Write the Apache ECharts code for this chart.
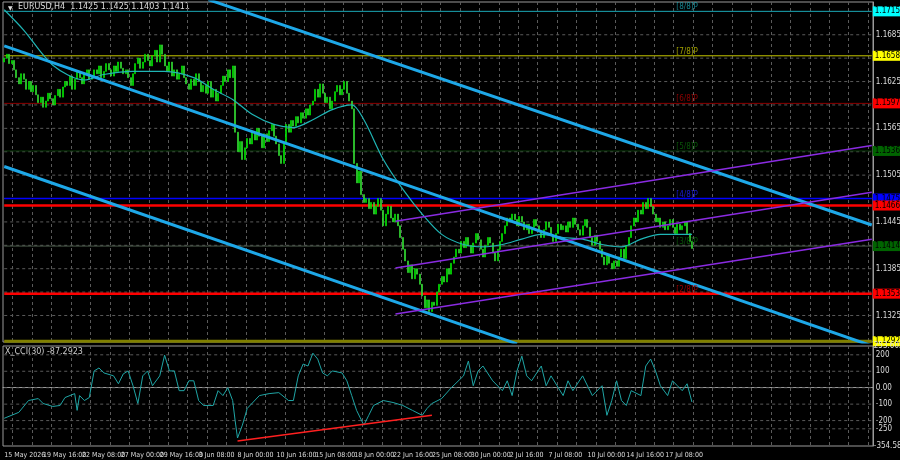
<!DOCTYPE html>
<html>
<head>
<meta charset="utf-8">
<script src="https://cdn.jsdelivr.net/npm/echarts@6/dist/echarts.min.js"></script>
<style>
  html, body { margin: 0; padding: 0; background: #000; }
  #chart { width: 900px; height: 460px; }
</style>
</head>
<body>
<div id="chart"></div>
<script>
// EURUSD H4 closes
const closes = [
  1.1655,1.1660,1.1648,1.1652,1.1640,
  1.1630,1.1622,1.1635,1.1628,1.1615,1.1625,1.1612,1.1620,
  1.1608,1.1598,1.1605,1.1592,1.1600,1.1610,1.1603,1.1595,1.1607,1.1615,1.1605,1.1618,
  1.1625,1.1620,1.1632,1.1615,1.1628,1.1638,1.1630,1.1622,1.1635,1.1640,1.1628,1.1632,
  1.1640,1.1635,1.1645,1.1630,1.1638,1.1648,1.1640,1.1632,1.1645,1.1638,1.1650,1.1642,1.1635,1.1640,1.1630,1.1620,1.1635,
  1.1648,1.1655,1.1642,1.1650,1.1660,1.1652,1.1645,1.1658,1.1665,1.1650,1.1672,1.1660,
  1.1645,1.1638,1.1650,1.1632,1.1640,1.1628,1.1635,1.1645,1.1630,1.1622,1.1615,1.1628,1.1620,1.1635,1.1625,1.1612,1.1620,
  1.1610,1.1625,1.1605,1.1615,1.1600,1.1610,1.1620,1.1632,1.1625,1.1640,1.1630,1.1645,
  1.1560,1.1535,1.1548,1.1525,1.1540,1.1552,
  1.1545,1.1560,1.1550,1.1565,1.1555,1.1540,1.1558,1.1548,1.1562,1.1570,1.1555,1.1545,1.1530,1.1520,1.1545,
  1.1570,1.1560,1.1575,1.1568,1.1580,1.1572,1.1585,1.1578,1.1590,1.1582,1.1595,
  1.1600,1.1615,1.1605,1.1622,1.1610,1.1598,1.1605,1.1590,1.1600,1.1612,1.1620,1.1608,1.1615,1.1625,1.1610,1.1600,1.1590,
  1.1520,1.1495,1.1510,1.1480,1.1470,
  1.1475,1.1462,1.1470,1.1455,1.1465,1.1475,1.1460,1.1440,1.1455,1.1465,1.1450,1.1445,1.1455,1.1440,
  1.1425,1.1410,1.1395,1.1380,1.1390,1.1372,1.1385,1.1378,1.1365,
  1.1350,1.1335,1.1345,1.1330,1.1342,1.1338,1.1355,
  1.1365,1.1375,1.1368,1.1385,1.1378,1.1392,1.1400,1.1410,
  1.1405,1.1420,1.1412,1.1425,1.1415,1.1405,1.1418,1.1430,1.1422,1.1410,1.1400,1.1415,1.1425,1.1418,1.1405,1.1395,1.1410,
  1.1420,1.1430,1.1440,1.1450,1.1445,1.1455,1.1448,1.1440,1.1452,
  1.1445,1.1435,1.1442,1.1430,1.1438,1.1448,1.1440,1.1432,1.1425,1.1435,1.1445,1.1438,1.1428,1.1420,1.1430,1.1442,1.1435,
  1.1440,1.1432,1.1445,1.1438,1.1450,1.1442,1.1435,1.1428,1.1440,1.1448,1.1438,1.1425,1.1415,1.1428,1.1420,1.1410,
  1.1400,1.1390,1.1402,1.1392,1.1385,1.1395,1.1388,1.1400,1.1410,1.1398,1.1415,1.1425,
  1.1440,1.1450,1.1445,1.1460,1.1455,1.1470,1.1462,1.1475,1.1465,
  1.1455,1.1445,1.1450,1.1438,1.1445,1.1435,1.1440,1.1448,1.1438,1.1430,1.1442,1.1435,1.1440,1.1445,1.1430,1.1420,1.1411
];
const firstOpen = 1.1650;
const slotCount = 358;

const maIdx = [0,8,20,33,41,53,66,78,86,94,102,111,119,127,135,143,148,156,164,172,180,189,197,205,213,221,230,238,246,254,262,270,283];
const maVals = [1.1717,1.1691,1.1646,1.1627,1.1634,1.1638,1.1638,1.1630,1.1615,1.1602,1.1583,1.1570,1.1566,1.1576,1.1589,1.1595,1.1576,1.1525,1.1487,1.1455,1.1429,1.1416,1.1413,1.1416,1.1423,1.1429,1.1425,1.1423,1.1416,1.1413,1.1423,1.1429,1.1429];

const cciIdx = [0,6,10,14,16,20,23,25,29,30,31,33,35,37,39,41,45,47,49,51,53,55,57,59,61,64,66,68,70,72,74,76,78,80,82,86,88,90,92,94,95,96,98,100,105,109,113,117,119,121,123,125,127,129,131,133,135,139,141,143,145,148,150,152,156,160,164,168,172,174,176,180,184,189,191,193,195,197,201,205,207,209,211,213,215,217,221,223,225,230,232,234,238,242,246,248,250,252,254,256,258,262,264,266,268,270,273,275,277,279,281,283];
const cciVals = [-186,-150,-78,-66,-96,-114,-108,-60,-36,-138,-48,-78,-60,102,120,90,72,24,84,102,12,-96,72,102,12,72,198,102,102,-18,-18,42,42,-78,-108,-108,-18,-48,0,-78,-198,-306,-228,-126,-48,-36,-30,-78,-78,72,144,132,210,174,90,72,102,90,42,-48,-138,-228,-168,-108,-78,-90,-108,-138,-168,-126,-96,-66,0,72,162,12,102,132,42,-18,42,-48,102,192,72,42,132,12,72,-48,42,-18,72,-48,12,-168,-78,42,-78,-108,-18,-48,132,174,102,12,-48,42,12,-18,24,-87];

const dateLabels = ['15 May 2026','19 May 16:00','22 May 08:00','27 May 00:00','29 May 16:00','3 Jun 08:00','8 Jun 00:00','10 Jun 16:00','15 Jun 08:00','18 Jun 00:00','22 Jun 16:00','25 Jun 08:00','30 Jun 00:00','2 Jul 16:00','7 Jul 08:00','10 Jul 00:00','14 Jul 16:00','17 Jul 08:00'];
const barsPerLabel = 16;

const priceMin = 1.1291, priceMax = 1.1727;
const gridTicks = [1.1325,1.1355,1.1385,1.1415,1.1445,1.1475,1.1505,1.1535,1.1565,1.1595,1.1625,1.1655,1.1685];
const priceLabels = [1.1685,1.1625,1.1565,1.1505,1.1445,1.1385,1.1325];

// Murray levels and other horizontal lines
const levelVals = [1.1715,1.1658,1.1597,1.1536,1.1475,1.1466,1.1414,1.1353,1.1292];
const levelTags = ['[8/8]P','[7/8]P','[6/8]P','[5/8]P','[4/8]P','','[3/8]P','[2/8]P',''];

// trend channels: [startIdx, startPrice, endIdx, endPrice]
const blueLines = [[84,1.1730,357,1.1441],[0,1.16708,357,1.12861],[0,1.15161,211,1.12887]];
const purpleLines = [[161,1.14459,357,1.15430],[161,1.13858,357,1.14829],[161,1.13270,357,1.14228]];
const cciTrend = [[96,-324],[176,-168]];

const cciMin = -354.583, cciMax = 253.6021;
const cciTicks = [200,100,0,-100,-200,-250];
const header = 'EURUSD,H4  1.1425 1.1425 1.1403 1.1411';
const cciTitle = 'X_CCI(30) -87.2923';

const levelStyle = [
  { c: '#1aa7b5', w: 1, bg: '#00ffff', tc: '#1aa7b5' },
  { c: '#c8c800', w: 1, bg: '#ffff00', tc: '#c8c800' },
  { c: '#8b0000', w: 1, bg: '#ff0000', tc: '#b00000' },
  { c: '#0a3a0a', w: 1, bg: '#006400', tc: '#0a6a0a' },
  { c: '#0000ff', w: 1.5, bg: '#0000ff', tc: '#2020ff' },
  { c: '#ff0000', w: 2.5, bg: '#ff0000', tc: '#ff0000' },
  { c: '#4a5a4a', w: 1, bg: '#006400', tc: '#0a6a0a' },
  { c: '#ff0000', w: 2.5, bg: '#ff0000', tc: '#c00000' },
  { c: '#808000', w: 3, bg: '#ffff00', tc: '#808000' }
];

const font = 'DejaVu Sans Condensed, DejaVu Sans';
const cats = [];
for (let i = 0; i < slotCount; i++) cats.push(String(i));

const candles = closes.map((c, i) => {
  const o = i === 0 ? firstOpen : closes[i - 1];
  return [o, c, Math.min(o, c), Math.max(o, c)];
});

const dash = { color: '#5a5a5a', type: [3, 3], width: 1 };
const axisText = { color: '#ddd', fontSize: 8, fontFamily: font };

function seg(l) { return [[l[0], l[1]], [l[2], l[3]]]; }
function hline(v, lineStyle, label) {
  return {
    type: 'line', xAxisIndex: 0, yAxisIndex: 0, silent: true, showSymbol: false, z: 1,
    data: [[0, v], [slotCount - 1, v]], lineStyle: lineStyle,
    endLabel: label ? Object.assign({ show: true, distance: 4 }, label) : { show: false }
  };
}

const series = [];
// price grid lines with their labels
gridTicks.forEach(v => {
  const show = priceLabels.some(p => Math.abs(p - v) < 1e-6);
  series.push(hline(v, dash, show ? Object.assign({ formatter: v.toFixed(4) }, axisText) : null));
});
// level lines with coloured price boxes
levelVals.forEach((v, k) => {
  const s = levelStyle[k];
  series.push(hline(v, { color: s.c, width: s.w }, {
    formatter: v.toFixed(4), color: '#000', backgroundColor: s.bg, fontSize: 8, fontFamily: font,
    padding: [1, 2], distance: 1
  }));
  if (levelTags[k]) {
    series.push({
      type: 'scatter', xAxisIndex: 0, yAxisIndex: 0, silent: true, symbolSize: 0, z: 5,
      data: [[281, v]],
      label: { show: true, position: 'top', distance: 0, formatter: levelTags[k], color: s.tc, fontSize: 8, fontFamily: font }
    });
  }
});
series.push({
  type: 'candlestick', xAxisIndex: 0, yAxisIndex: 0, data: candles, barWidth: 1.5, z: 3,
  itemStyle: { color: '#0a5a0a', color0: '#00ff00', borderColor: '#00ff00', borderColor0: '#3cd03c', borderWidth: 0.7 }
});
series.push({
  type: 'line', xAxisIndex: 0, yAxisIndex: 0, data: maIdx.map((x, k) => [x, maVals[k]]), z: 4,
  showSymbol: false, smooth: 0.3, lineStyle: { color: '#1fb5b5', width: 1.2 }, silent: true
});
blueLines.forEach(l => series.push({
  type: 'line', xAxisIndex: 0, yAxisIndex: 0, data: seg(l), showSymbol: false, silent: true, z: 4,
  lineStyle: { color: '#1ea8e8', width: 3 }
}));
purpleLines.forEach(l => series.push({
  type: 'line', xAxisIndex: 0, yAxisIndex: 0, data: seg(l), showSymbol: false, silent: true, z: 4,
  lineStyle: { color: '#8a2be2', width: 1.5 }
}));
// CCI panel
cciTicks.forEach(v => series.push({
  type: 'line', xAxisIndex: 1, yAxisIndex: 1, silent: true, showSymbol: false,
  data: [[0, v], [slotCount - 1, v]], lineStyle: dash,
  endLabel: Object.assign({ show: true, distance: 4, formatter: v === 0 ? '0.00' : String(v) }, axisText)
}));
[cciMax, cciMin].forEach(v => series.push({
  type: 'line', xAxisIndex: 1, yAxisIndex: 1, silent: true, showSymbol: false,
  data: [[0, v], [slotCount - 1, v]], lineStyle: { opacity: 0 },
  endLabel: Object.assign({ show: true, distance: 2, formatter: String(v) }, axisText)
}));
series.push({
  type: 'line', xAxisIndex: 1, yAxisIndex: 1, data: cciIdx.map((x, k) => [x, cciVals[k]]),
  showSymbol: false, silent: true, lineStyle: { color: '#1fa5a5', width: 1 }
});
series.push({
  type: 'line', xAxisIndex: 1, yAxisIndex: 1, data: cciTrend, showSymbol: false, silent: true,
  lineStyle: { color: '#ff2020', width: 1.5 }
});

const xCommon = {
  type: 'category', data: cats, boundaryGap: true,
  axisTick: { show: false },
  splitLine: { show: true, interval: i => i % 8 === 4, lineStyle: dash }
};

const chart = echarts.init(document.getElementById('chart'));
chart.setOption({
  backgroundColor: '#000',
  animation: false,
  textStyle: { fontFamily: font },
  grid: [
    { left: 3, right: 27, top: 2, height: 340, show: true, borderColor: '#9a9a9a', borderWidth: 1 },
    { left: 3, right: 27, top: 346, height: 100, show: true, borderColor: '#9a9a9a', borderWidth: 1 }
  ],
  xAxis: [
    Object.assign({}, xCommon, { gridIndex: 0, axisLine: { show: false }, axisLabel: { show: false } }),
    Object.assign({}, xCommon, {
      gridIndex: 1, axisLine: { show: true, lineStyle: { color: '#9a9a9a' } },
      axisLabel: {
        show: true, interval: 0, align: 'left', margin: 6, fontSize: 7, color: '#ddd', fontFamily: font,
        formatter: (val, i) => (i % barsPerLabel === 0 && dateLabels[i / barsPerLabel]) ? dateLabels[i / barsPerLabel] : ''
      }
    })
  ],
  yAxis: [
    { gridIndex: 0, type: 'value', position: 'right', min: priceMin, max: priceMax, splitLine: { show: false },
      axisLabel: { show: false }, axisLine: { show: true, lineStyle: { color: '#9a9a9a' } }, axisTick: { show: false } },
    { gridIndex: 1, type: 'value', position: 'right', min: cciMin, max: cciMax, splitLine: { show: false },
      axisLabel: { show: false }, axisLine: { show: true, lineStyle: { color: '#9a9a9a' } }, axisTick: { show: false } }
  ],
  graphic: [
    { type: 'text', left: 8, top: 5, style: { text: '\u25BC', fill: '#ddd', font: '6px DejaVu Sans' } },
    { type: 'text', left: 18, top: 3, style: { text: header, fill: '#ddd', font: '8px DejaVu Sans' } },
    { type: 'text', left: 5, top: 348, style: { text: cciTitle, fill: '#ccc', font: '8px DejaVu Sans' } }
  ],
  series: series
});
</script>
</body>
</html>
